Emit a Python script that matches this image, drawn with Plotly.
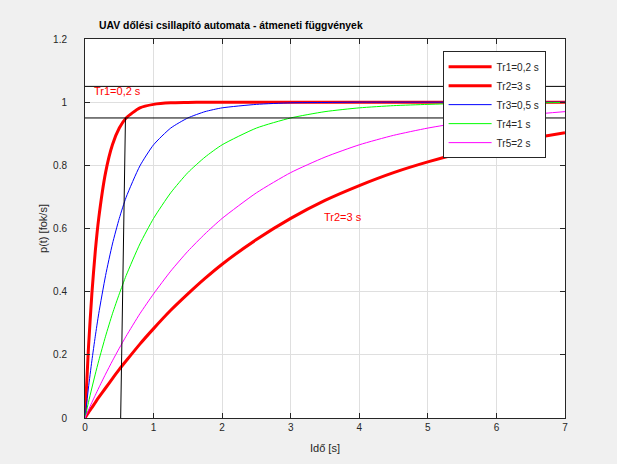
import plotly.graph_objects as go

# time samples [s]
t = [0, 0.05, 0.1, 0.15, 0.2, 0.3, 0.4, 0.5, 0.6, 0.8, 1.0, 1.25, 1.5, 1.75,
     2.0, 2.5, 3.0, 3.5, 4.0, 4.5, 5.0, 5.5, 6.0, 6.5, 7.0]

p_tr1 = [0, 0.221, 0.393, 0.528, 0.632, 0.777, 0.865, 0.918, 0.950, 0.982, 0.993,
         0.998, 0.999, 1.0, 1.0, 1.0, 1.0, 1.0, 1.0, 1.0, 1.0, 1.0, 1.0, 1.0, 1.0]
p_tr2 = [0, 0.017, 0.033, 0.049, 0.065, 0.095, 0.125, 0.154, 0.181, 0.234, 0.283,
         0.341, 0.393, 0.442, 0.487, 0.565, 0.632, 0.689, 0.736, 0.777, 0.811,
         0.840, 0.865, 0.885, 0.903]
p_tr3 = [0, 0.095, 0.181, 0.259, 0.330, 0.451, 0.551, 0.632, 0.699, 0.798, 0.865,
         0.918, 0.950, 0.970, 0.982, 0.993, 0.998, 0.999, 1.0, 1.0, 1.0, 1.0, 1.0,
         1.0, 1.0]
p_tr4 = [0, 0.049, 0.095, 0.139, 0.181, 0.259, 0.330, 0.393, 0.451, 0.551, 0.632,
         0.713, 0.777, 0.826, 0.865, 0.918, 0.950, 0.970, 0.982, 0.989, 0.993,
         0.996, 0.998, 0.998, 0.999]
p_tr5 = [0, 0.025, 0.049, 0.072, 0.095, 0.139, 0.181, 0.221, 0.259, 0.330, 0.393,
         0.465, 0.528, 0.583, 0.632, 0.713, 0.777, 0.826, 0.865, 0.895, 0.918,
         0.936, 0.950, 0.961, 0.970]

series_names = ["Tr1=0,2 s", "Tr2=3 s", "Tr3=0,5 s", "Tr4=1 s", "Tr5=2 s"]
series_vals = [p_tr1, p_tr2, p_tr3, p_tr4, p_tr5]
series_colors = ["#FF0000", "#FF0000", "#0000FF", "#00FF00", "#FF00FF"]
series_widths = [3, 3, 1, 1, 1]

# tolerance band and marker line
band_x = [0, 7]
band_hi = [1.05, 1.05]
band_lo = [0.95, 0.95]
mark_x = [0.52, 0.59]
mark_y = [0, 0.95]

x_ticks = [0, 1, 2, 3, 4, 5, 6, 7]
y_ticks = [0, 0.2, 0.4, 0.6, 0.8, 1, 1.2]
y_tick_text = ["0", "0.2", "0.4", "0.6", "0.8", "1", "1.2"]

fig = go.Figure()
for name, vals, col, w in zip(series_names, series_vals, series_colors, series_widths):
    fig.add_trace(go.Scatter(x=t, y=vals, mode="lines", name=name,
                             line=dict(color=col, width=w, shape="spline", smoothing=0.6)))

for yy in (band_hi, band_lo):
    fig.add_trace(go.Scatter(x=band_x, y=yy, mode="lines", showlegend=False,
                             line=dict(color="black", width=1), hoverinfo="skip"))
fig.add_trace(go.Scatter(x=mark_x, y=mark_y, mode="lines", showlegend=False,
                         line=dict(color="black", width=1), hoverinfo="skip"))

font_family = "Liberation Sans, Arial, Helvetica, sans-serif"
axcol = "#262626"

fig.update_layout(
    width=617, height=464,
    paper_bgcolor="#F0F0F0", plot_bgcolor="white",
    margin=dict(l=85, r=52, t=39, b=46),
    font=dict(family=font_family, size=10, color=axcol),
    showlegend=True,
    legend=dict(x=0.745, y=0.968, xanchor="left", yanchor="top",
                bgcolor="white", bordercolor=axcol, borderwidth=1,
                font=dict(size=10, color=axcol), tracegroupgap=0,
                itemwidth=43),
    annotations=[
        dict(text="<b>UAV dőlési csillapító automata - átmeneti függvények</b>",
             xref="paper", yref="paper", x=(231 - 85) / 480,
             y=1.0, yshift=14, xanchor="center", yanchor="middle",
             showarrow=False, font=dict(size=10.4, color="black")),
        dict(text="Tr1=0,2 s", x=0.1, y=1.035, xanchor="left", yanchor="middle",
             showarrow=False, font=dict(size=11, color="#FF0000")),
        dict(text="Tr2=3 s", x=3.45, y=0.637, xanchor="left", yanchor="middle",
             showarrow=False, font=dict(size=11, color="#FF0000")),
    ],
    xaxis=dict(range=[0, 7], tickvals=x_ticks, ticks="inside", ticklen=5,
               tickcolor=axcol, showline=True, linecolor=axcol, linewidth=1,
               mirror="ticks", showgrid=True, gridcolor="#DFDFDF", zeroline=False,
               automargin=False,
               title=dict(text="Idő [s]", font=dict(size=11, color=axcol), standoff=12)),
    yaxis=dict(range=[0, 1.2], tickvals=y_ticks, ticktext=y_tick_text, ticks="inside",
               ticklen=5, tickcolor=axcol, showline=True, linecolor=axcol, linewidth=1,
               mirror="ticks", showgrid=True, gridcolor="#DFDFDF", zeroline=False,
               ticklabelstandoff=15, automargin=False,
               title=dict(text="p(t) [fok/s]", font=dict(size=11, color=axcol), standoff=3)),
)

fig.write_html("out.html")
